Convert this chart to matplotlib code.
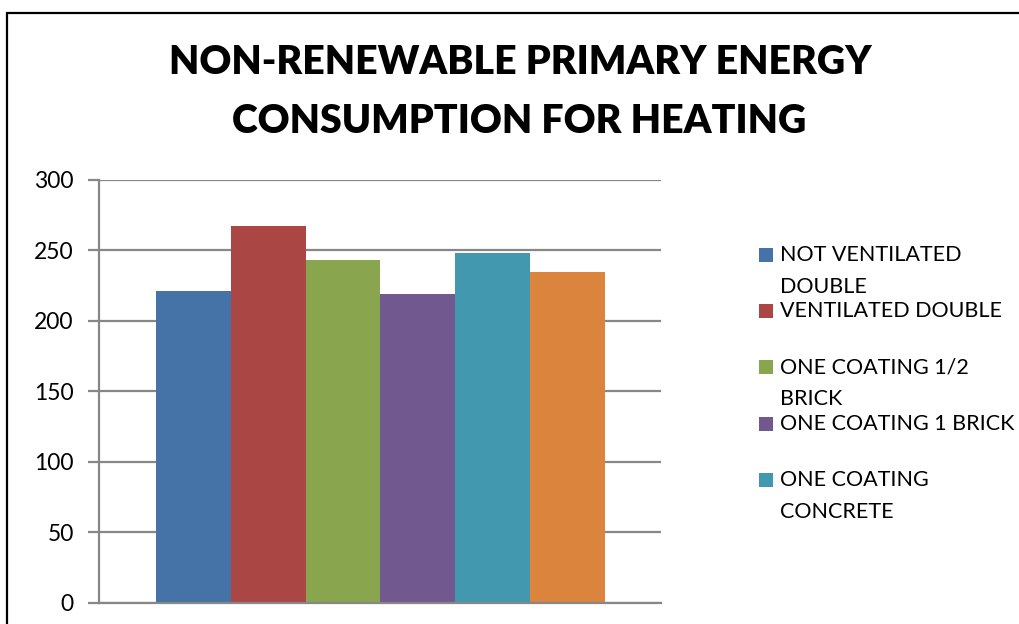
import matplotlib
matplotlib.use("Agg")
import matplotlib.pyplot as plt
from matplotlib.patches import Rectangle

# Data
series_labels = [
    "NOT VENTILATED\nDOUBLE",
    "VENTILATED DOUBLE",
    "ONE COATING 1/2\nBRICK",
    "ONE COATING 1 BRICK",
    "ONE COATING\nCONCRETE",
    None,  # sixth series: legend entry cut off in the reference
]
values = [221, 267, 243, 219, 248.5, 234.5]
colors = ["#4572A7", "#AA4643", "#89A54E", "#71588F", "#4198AF", "#DB843D"]
yticks = [0, 50, 100, 150, 200, 250, 300]

W, H = 1019, 624
fig = plt.figure(figsize=(W / 100, H / 100), dpi=100)
fig.patch.set_facecolor("white")
FONT = "Lato"

# Outer chart border (extends beyond right and bottom edges)
border = Rectangle((6.5 / W, -0.1), 1.2, 1 - 13 / H + 0.1, transform=fig.transFigure,
                   fill=False, edgecolor="black", linewidth=1.6)
fig.patches.append(border)

ax = fig.add_axes([98.7 / W, 1 - 602.7 / H, (660.7 - 98.7) / W, (602.7 - 180) / H])
grid_c = "#878787"
for i, (v, c) in enumerate(zip(values, colors)):
    ax.bar(i, v, width=1.0, color=c, zorder=3, linewidth=0)

ax.set_xlim(-1.27, 6.25)
ax.set_ylim(0, 300)
ax.set_yticks(yticks)
ax.set_yticklabels([str(t) for t in yticks], fontfamily=FONT, fontsize=16.5)
ax.set_xticks([])
ax.yaxis.grid(True, color=grid_c, linewidth=1.6, zorder=0)
ax.tick_params(axis="y", length=8, width=1.6, color=grid_c, pad=10)
for s in ["top", "right"]:
    ax.spines[s].set_visible(False)
ax.spines["left"].set_color(grid_c)
ax.spines["left"].set_linewidth(1.6)
ax.spines["bottom"].set_color(grid_c)
ax.spines["bottom"].set_linewidth(1.6)
ax.spines["bottom"].set_zorder(4)

# Title
fig.text(520 / W, 1 - 63 / H, "NON-RENEWABLE PRIMARY ENERGY", ha="center", va="center",
         fontfamily=FONT, fontweight="heavy", fontsize=28.3)
fig.text(519 / W, 1 - 121.5 / H, "CONSUMPTION FOR HEATING", ha="center", va="center",
         fontfamily=FONT, fontweight="heavy", fontsize=28.3)

# Legend (manual, first line aligned with marker)
for i, (lab, c) in enumerate(zip(series_labels, colors)):
    if lab is None:
        continue
    yc = 255 + i * 56.2
    fig.patches.append(Rectangle((759 / W, 1 - (yc + 7) / H), 14 / W, 14 / H,
                                 transform=fig.transFigure, facecolor=c, edgecolor="none"))
    for j, line in enumerate(lab.split("\n")):
        fig.text(780 / W, 1 - (yc + j * 32) / H, line, ha="left", va="center",
                 fontfamily=FONT, fontsize=15.5)

fig.savefig("out.png", dpi=100, facecolor="white")
